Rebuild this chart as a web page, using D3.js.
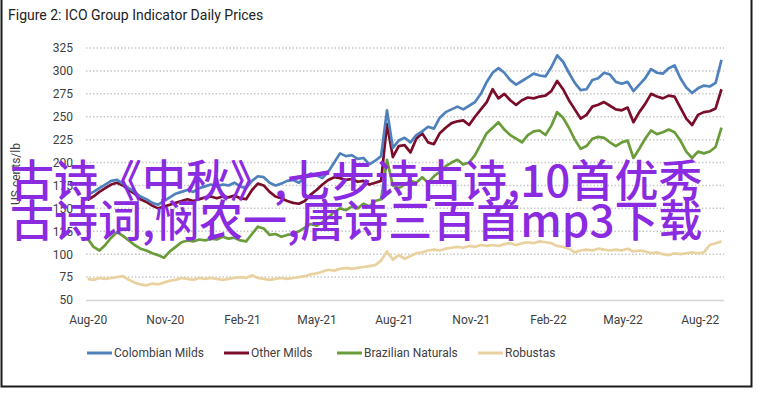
<!DOCTYPE html>
<html>
<head>
<meta charset="utf-8">
<script src="https://cdn.jsdelivr.net/npm/d3@7"></script>
<style>
  body { margin: 0; background: #fff; }
  svg text { font-family: Roboto, "Open Sans", sans-serif; fill: #404040; }
</style>
</head>
<body>
<script>
const width = 758;
const height = 393;

// weekly readings, first week starting 1 Aug 2020
const startDate = new Date(2020, 7, 1);
const dates = d3.range(109).map(i => d3.timeDay.offset(startDate, i * 7));

const colombian = [
  165, 168, 172, 176, 180, 181, 177, 172, 168, 163, 160, 156, 154, 158, 162, 166, 168, 170, 168, 172,
  174, 176, 174, 176, 175, 178, 174, 172, 180, 185, 184, 178, 175, 177, 180, 181, 178, 184, 188, 186,
  183, 190, 200, 210, 207, 208, 204, 205, 198, 202, 207, 257, 216, 224, 227, 222, 230, 234, 239, 237,
  249, 255, 258, 261, 258, 262, 266, 275, 288, 298, 303, 298, 290, 285, 289, 293, 297, 295, 294, 304,
  317, 310, 298, 287, 279, 280, 290, 292, 298, 296, 288, 286, 288, 278, 285, 292, 302, 298, 297, 303,
  306, 292, 282, 276, 281, 284, 283, 287, 312
];
const otherMilds = [
  159, 163, 168, 172, 176, 178, 175, 170, 166, 160, 157, 153, 150, 152, 154, 156, 158, 160, 158, 160,
  162, 163, 161, 163, 162, 164, 161, 160, 170, 177, 175, 168, 163, 161, 158, 156, 155, 158, 165, 170,
  176, 181, 184, 183, 181, 182, 179, 180, 176, 178, 180, 242, 206, 218, 219, 211, 226, 232, 222, 220,
  232, 238, 243, 245, 246, 241, 250, 258, 266, 280, 270, 275, 268, 263, 268, 271, 270, 272, 273, 278,
  289, 280, 268, 258, 248, 252, 261, 263, 266, 262, 258, 257, 260, 244, 255, 264, 275, 272, 270, 273,
  272, 260, 248, 241, 252, 255, 256, 259, 280
];
const brazilian = [
  117, 108, 104, 110, 118, 124, 120, 115, 110, 106, 104, 101, 99, 96, 103, 108, 113, 115, 114, 116,
  115, 117, 116, 119, 117, 118, 115, 114, 122, 130, 128, 121, 122, 119, 121, 122, 125, 129, 133, 131,
  135, 140, 146, 150, 148, 152, 150, 155, 152, 158, 160, 203, 175, 172, 176, 180, 178, 184, 178, 185,
  190, 196, 200, 203, 198, 200, 208, 220, 232, 238, 244, 236, 230, 226, 222, 230, 234, 235, 230, 240,
  255, 249, 238, 225, 215, 218, 226, 228, 227, 222, 218, 222, 224, 205, 215, 226, 235, 231, 233, 236,
  233, 224, 212, 205, 212, 210, 212, 217, 238
];
const robustas = [
  73, 72, 74, 73, 74, 75, 76, 72, 69, 67, 66, 68, 67, 69, 71, 72, 74, 73, 72, 74,
  73, 74, 73, 72, 73, 74, 75, 74, 77, 74, 73, 72, 73, 74, 73, 74, 75, 76, 78, 79,
  81, 83, 82, 84, 85, 84, 85, 86, 87, 88, 93, 103, 94, 99, 95, 98, 101, 102, 104, 105,
  104, 106, 107, 108, 107, 109, 108, 110, 109, 110, 109, 111, 112, 110, 112, 113, 112, 114, 113, 112,
  109, 108, 106, 102, 104, 105, 104, 106, 105, 104, 105, 104, 106, 103, 104, 103, 101, 102, 100, 99,
  101, 100, 101, 102, 101, 102, 110, 112, 114
];

const seriesNames = ["Colombian Milds", "Other Milds", "Brazilian Naturals", "Robustas"];
const seriesColors = ["#4f81bd", "#7a0e2a", "#6a9c3a", "#e9d2a0"];
const seriesValues = [colombian, otherMilds, brazilian, robustas];

const yTicks = [50, 75, 100, 125, 150, 175, 200, 225, 250, 275, 300, 325];
const xTickDates = [
  new Date(2020, 7, 1), new Date(2020, 10, 1), new Date(2021, 1, 1), new Date(2021, 4, 1),
  new Date(2021, 7, 1), new Date(2021, 10, 1), new Date(2022, 1, 1), new Date(2022, 4, 1),
  new Date(2022, 7, 1)
];

const title = "Figure 2: ICO Group Indicator Daily Prices";
const yTitle = "US cents/lb";
const overlayLines = ["古诗《中秋》,七步诗古诗,10首优秀", "古诗词,悯农一,唐诗三百首mp3下载"];

const plot = { left: 86, right: 724, top: 48, bottom: 300 };

const svg = d3.select('body').append('svg')
    .attr('width', width)
    .attr('height', height);

// frame
svg.append('rect')
    .attr('x', 1.5).attr('y', -2)
    .attr('width', 750).attr('height', 388.5)
    .attr('fill', 'none')
    .attr('stroke', '#1a1a1a')
    .attr('stroke-width', 2);

svg.append('text')
    .attr('x', 8).attr('y', 20)
    .style('font-size', '14px')
    .style('fill', '#222')
    .text(title);

const xScale = d3.scaleTime()
    .domain([new Date(2020, 6, 30), new Date(2022, 7, 30)])
    .range([plot.left, plot.right]);
const yScale = d3.scaleLinear()
    .domain([50, 325])
    .range([plot.bottom, plot.top]);

// dotted grid
svg.append('g').selectAll('line')
    .data(yTicks.filter(d => d > 50))
    .enter().append('line')
    .attr('x1', plot.left).attr('x2', plot.right)
    .attr('y1', d => yScale(d)).attr('y2', d => yScale(d))
    .attr('stroke', '#c8c8c8')
    .attr('stroke-width', 1.5)
    .attr('stroke-dasharray', '1.5,2');

svg.append('line')
    .attr('x1', plot.left).attr('x2', plot.right)
    .attr('y1', yScale(50) + 0.5).attr('y2', yScale(50) + 0.5)
    .attr('stroke', '#d4d4d4')
    .attr('stroke-width', 1.5);

const yAxis = svg.append('g')
    .attr('transform', 'translate(' + plot.left + ',0)')
    .call(d3.axisLeft(yScale).tickValues(yTicks).tickSize(0).tickPadding(13));
yAxis.select('.domain').remove();
yAxis.selectAll('text').style('font-size', '12px').style('font-family', null);

const xAxis = svg.append('g')
    .attr('transform', 'translate(0,' + plot.bottom + ')')
    .call(d3.axisBottom(xScale).tickValues(xTickDates).tickSize(0).tickPadding(15)
        .tickFormat(d3.timeFormat('%b-%y')));
xAxis.select('.domain').remove();
xAxis.selectAll('text').style('font-size', '12px').style('font-family', null);

svg.append('text')
    .attr('transform', 'translate(20,' + ((plot.top + plot.bottom) / 2) + ') rotate(-90)')
    .attr('text-anchor', 'middle')
    .style('font-size', '12px')
    .text(yTitle);

// series, robustas drawn first so the others sit on top
const line = d3.line()
    .x((d, i) => xScale(dates[i]))
    .y(d => yScale(d));

[3, 2, 1, 0].forEach(k => {
  svg.append('path')
      .attr('d', line(seriesValues[k]))
      .attr('fill', 'none')
      .attr('stroke', seriesColors[k])
      .attr('stroke-width', 2.7)
      .attr('stroke-linejoin', 'round');
});

// legend
const legendX = [87, 224, 337, 478];
const legend = svg.append('g').selectAll('g')
    .data(seriesNames)
    .enter().append('g')
    .attr('transform', (d, i) => 'translate(' + legendX[i] + ',353)');
legend.append('line')
    .attr('x1', 0).attr('x2', 25)
    .attr('stroke', (d, i) => seriesColors[i])
    .attr('stroke-width', 3);
legend.append('text')
    .attr('x', 27).attr('y', 4)
    .style('font-size', '12px')
    .text(d => d);

// purple overlay text
svg.append('g').selectAll('text')
    .data(overlayLines)
    .enter().append('text')
    .attr('x', 10)
    .attr('y', (d, i) => 197 + i * 40)
    .style('font-family', '"Noto Sans CJK SC", sans-serif')
    .style('font-weight', '500')
    .style('font-size', '44px')
    .style('fill', '#8a2be2')
    .text(d => d);
</script>
</body>
</html>
